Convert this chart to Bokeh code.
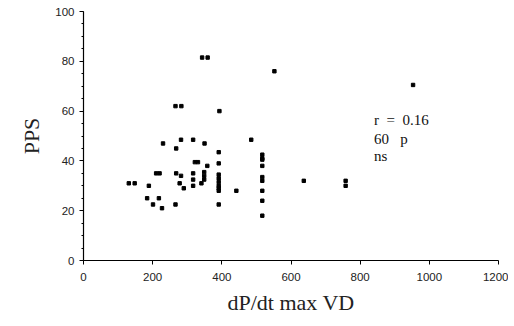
from bokeh.plotting import figure
from bokeh.models import ColumnDataSource, FixedTicker, Range1d
from bokeh.core.properties import value
from bokeh.embed import file_html
from bokeh.resources import INLINE

dpdt = [131, 148, 189, 184, 201, 218, 227, 266, 210, 220,
        230, 268, 282, 317, 350, 268, 282, 278, 290, 322,
        331, 358, 317, 317, 317, 349, 349, 349, 341, 391,
        391, 391, 391, 391, 391, 391, 391, 391, 442, 485,
        517, 517, 517, 517, 517, 517, 517, 517, 517, 343,
        359, 552, 266, 283, 393, 637, 758, 758, 953]
pps = [31, 31, 30, 25, 22.5, 25, 21, 22.5, 35, 35,
       47, 45, 48.5, 48.5, 47, 35, 34, 31, 29, 39.5,
       39.5, 38, 35, 32.5, 30, 35.5, 34, 32.5, 31, 43.5,
       39, 34.5, 33, 31.5, 30, 29, 28, 22.5, 28, 48.5,
       42.5, 41, 38, 33.5, 32, 28, 24, 18, 40.5, 81.5,
       81.5, 76, 62, 62, 60, 32, 32, 30, 70.5]
NB = "\u00a0"
stats_lines = ["r" + NB * 2 + "=" + NB * 2 + "0.16", "60" + NB * 3 + "p", "ns"]
stats_y = [56.5, 48.8, 42]
x_ticks = [0, 200, 400, 600, 800, 1000, 1200]
y_ticks = [0, 20, 40, 60, 80, 100]

p = figure(width=508, height=321, output_backend="svg", toolbar_location=None,
           x_range=Range1d(0, 1200), y_range=Range1d(0, 100),
           min_border_left=83, min_border_right=10, min_border_top=11,
           min_border_bottom=61)
p.outline_line_color = None
p.grid.visible = False
p.background_fill_color = "white"
p.border_fill_color = "white"

src = ColumnDataSource(dict(x=dpdt, y=pps))
p.scatter("x", "y", source=src, marker="square", size=3.4, color="black")

p.text(x=[840] * 3, y=stats_y, text=stats_lines, text_font=value("Liberation Serif"),
       text_font_size="15px", text_baseline="middle", text_color="#111111")

p.xaxis.ticker = FixedTicker(ticks=x_ticks)
p.yaxis.ticker = FixedTicker(ticks=y_ticks, minor_ticks=list(range(0, 101, 5)))
for ax in (p.xaxis[0], p.yaxis[0]):
    ax.axis_line_color = "black"
    ax.axis_line_width = 1.2
    ax.major_tick_line_color = "black"
    ax.major_tick_out = 4
    ax.major_tick_in = 0
    ax.major_label_text_font = "Liberation Sans"
    ax.major_label_text_font_size = "11.5px"
    ax.major_label_text_color = "#222222"
    ax.axis_label_text_font = "Liberation Serif"
    ax.axis_label_text_font_style = "normal"
    ax.axis_label_text_font_size = "22px"
    ax.axis_label_text_color = "#222222"
p.xaxis.minor_tick_line_color = None
p.yaxis.minor_tick_line_color = "black"
p.yaxis.minor_tick_out = 2
p.yaxis.minor_tick_in = 0
p.xaxis.major_label_standoff = 8
p.yaxis.major_label_standoff = 5
p.xaxis.axis_label = "dP/dt max VD"
p.yaxis.axis_label = "PPS"
p.xaxis.axis_label_standoff = 6
p.yaxis.axis_label_standoff = 8

open("out.html", "w").write(file_html(p, INLINE))
